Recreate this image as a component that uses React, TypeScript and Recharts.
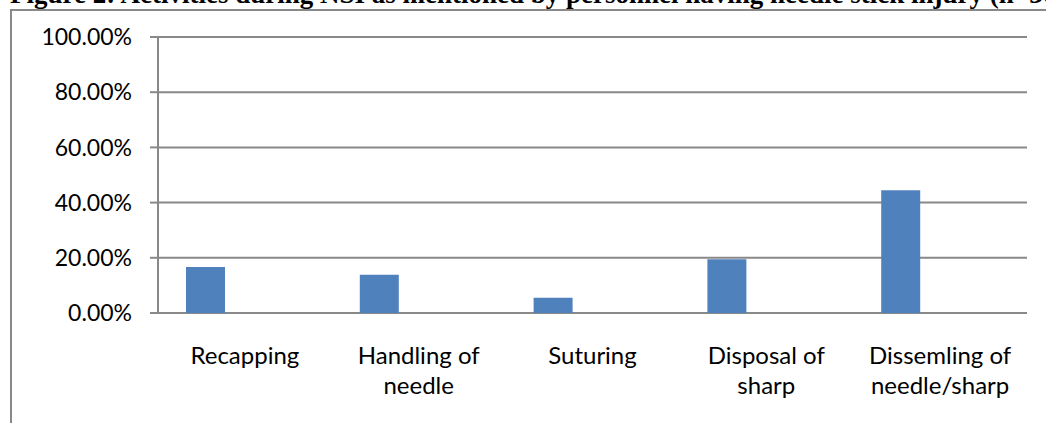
import { Bar, BarChart, CartesianGrid, XAxis, YAxis } from 'recharts';

const categories = ['Recapping', 'Handling of needle', 'Suturing', 'Disposal of sharp', 'Dissemling of needle/sharp'];
const injuryShare = [0.1667, 0.1389, 0.0556, 0.1944, 0.4444];
// the source sheet had two more (empty) series, which is why the bars sit left of centre
const series2 = [null, null, null, null, null];
const series3 = [null, null, null, null, null];
const yTicks = [0, 0.2, 0.4, 0.6, 0.8, 1];
const edgeTicks = [0, 1, 2, 3, 4, 5];

const title = 'Figure 2: Activities during NSI as mentioned by personnel having needle stick injury (n=36)';

const data = categories.map((name, i) => ({
  name,
  share: injuryShare[i],
  s2: series2[i],
  s3: series3[i],
}));

const GRAY = '#898989';
const FONT = 'Lato, "Open Sans", sans-serif';

function wrap(label: string, max = 13) {
  const lines: string[] = [];
  let cur = '';
  for (const w of label.split(' ')) {
    const next = cur ? cur + ' ' + w : w;
    if (next.length > max && cur) {
      lines.push(cur);
      cur = w;
    } else {
      cur = next;
    }
  }
  if (cur) lines.push(cur);
  return lines;
}

function CategoryTick({ x, y, payload }: any) {
  const lines = wrap(payload.value);
  return (
    <text x={x} y={y} textAnchor="middle" fill="#000" fontSize={24} fontFamily={FONT}>
      {lines.map((l, i) => (
        <tspan key={i} x={x} dy={i === 0 ? 51 : 30}>
          {l}
        </tspan>
      ))}
    </text>
  );
}

export default function App() {
  return (
    <div style={{ position: 'absolute', left: 0, top: 0, width: 1046, height: 423, overflow: 'hidden', background: '#fff' }}>
      <div
        style={{
          position: 'absolute',
          left: 10,
          top: -19,
          fontFamily: '"Liberation Serif", "Times New Roman", serif',
          fontWeight: 'bold',
          fontSize: 27,
          lineHeight: '27px',
          whiteSpace: 'nowrap',
        }}
      >
        {title}
      </div>
      <div
        style={{
          position: 'absolute',
          left: 10,
          top: 9,
          width: 2000,
          height: 1000,
          borderLeft: `2px solid ${GRAY}`,
          borderTop: `2px solid ${GRAY}`,
        }}
      />
      <div style={{ position: 'absolute', left: 0, top: 0 }}>
        <BarChart
          width={1046}
          height={423}
          data={data}
          margin={{ top: 37, right: 19, left: 0, bottom: 0 }}
          barCategoryGap={28}
          barGap={0}
        >
          <CartesianGrid vertical={false} stroke={GRAY} strokeWidth={2} />
          <XAxis
            xAxisId="edges"
            type="number"
            domain={[0, 5]}
            ticks={edgeTicks}
            tick={false}
            axisLine={false}
            tickLine={{ stroke: GRAY, strokeWidth: 2 }}
            tickSize={8}
            height={8}
          />
          <XAxis
            dataKey="name"
            interval={0}
            axisLine={false}
            tickLine={false}
            tickSize={0}
            tickMargin={0}
            height={102}
            tick={<CategoryTick />}
          />
          <YAxis
            domain={[0, 1]}
            ticks={yTicks}
            width={158}
            axisLine={{ stroke: GRAY, strokeWidth: 2 }}
            tickLine={{ stroke: GRAY, strokeWidth: 2 }}
            tickSize={8}
            tickMargin={18}
            tick={{ fill: '#000', fontSize: 23, fontFamily: FONT }}
            tickFormatter={(v: number) => (v * 100).toFixed(2) + '%'}
          />
          <Bar dataKey="share" fill="#4F81BD" isAnimationActive={false} />
          <Bar dataKey="s2" fill="#C0504D" isAnimationActive={false} />
          <Bar dataKey="s3" fill="#9BBB59" isAnimationActive={false} />
        </BarChart>
      </div>
    </div>
  );
}
